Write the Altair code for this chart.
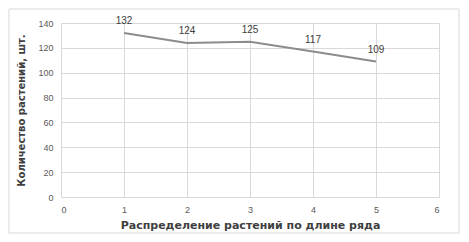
import altair as alt
import pandas as pd

positions = [1, 2, 3, 4, 5]
counts = [132, 124, 125, 117, 109]
x_ticks = [0, 1, 2, 3, 4, 5, 6]
y_ticks = [0, 20, 40, 60, 80, 100, 120, 140]

df = pd.DataFrame({"x": positions, "y": counts})

x_enc = alt.X("x:Q", scale=alt.Scale(domain=[0, 6], nice=False),
              axis=alt.Axis(values=x_ticks, format="d", labelOverlap=False,
                            title="Распределение растений по длине ряда",
                            grid=True, gridColor="#d9d9d9", domain=False, ticks=False,
                            labelFontSize=9, labelColor="#595959", labelPadding=8,
                            titleFontSize=11, titleFontWeight="bold", titleColor="#404040",
                            titlePadding=5, labelFont="Liberation Sans", titleFont="DejaVu Sans"))
y_enc = alt.Y("y:Q", scale=alt.Scale(domain=[0, 140], nice=False),
              axis=alt.Axis(values=y_ticks, format="d", labelOverlap=False,
                            title="Количество растений, шт.",
                            grid=True, gridColor="#d9d9d9", domain=False, ticks=False,
                            labelFontSize=9, labelColor="#595959", labelPadding=8,
                            titleFontSize=10, titleFontWeight="bold", titleColor="#404040",
                            titlePadding=11, labelFont="Liberation Sans", titleFont="DejaVu Sans"))

base = alt.Chart(df).encode(x=x_enc, y=y_enc)

border = alt.Chart(pd.DataFrame({"b": [0]})).mark_rect(
    fill=None, stroke="#d9d9d9", strokeWidth=1
).encode(x=alt.value(-52), x2=alt.value(398), y=alt.value(-14), y2=alt.value(210))

line = base.mark_line(color="#8c8c8c", strokeWidth=2)
labels = base.mark_text(dy=-12, fontSize=10, color="#404040",
                        font="Liberation Sans").encode(text="y:Q")

chart = (border + line + labels).properties(
    width=378, height=174,
    autosize=alt.AutoSizeParams(type="none"),
    padding={"left": 53, "top": 15, "right": 22, "bottom": 37},
    background="white",
).configure_view(stroke=None)

chart.save("out.html", embed_options={"renderer": "svg", "actions": False})
